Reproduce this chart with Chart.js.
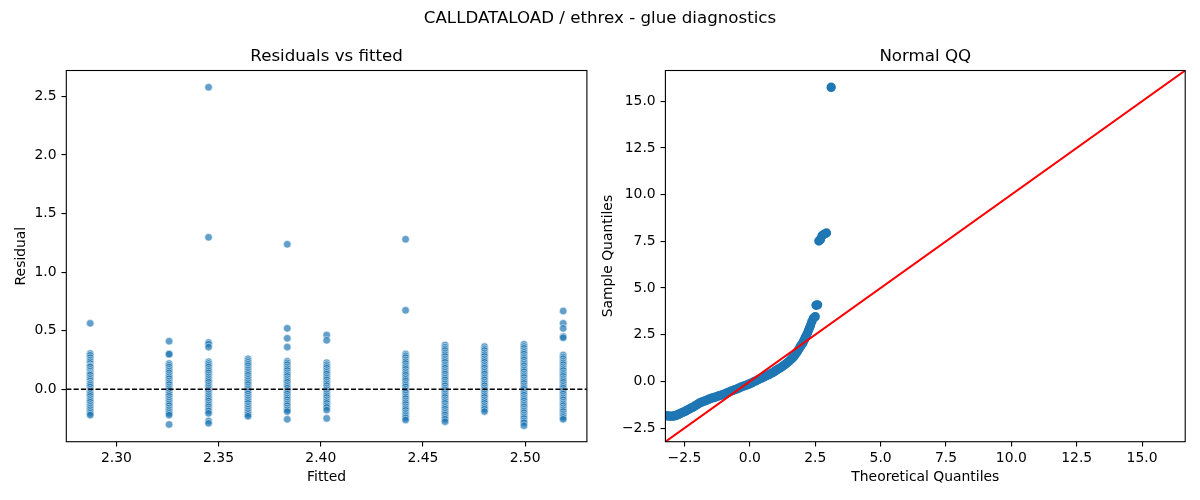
<!DOCTYPE html>
<html><head><meta charset="utf-8">
<script src="https://cdn.jsdelivr.net/npm/chart.js@4.4.1/dist/chart.umd.min.js"></script>
<style>
html,body{margin:0;padding:0;background:#fff;}
#wrap{position:relative;width:1200px;height:500px;overflow:hidden;background:#fff;}
#sup{position:absolute;left:0;top:8px;width:1200px;text-align:center;font-family:"DejaVu Sans";font-size:16.67px;line-height:20px;color:#000;white-space:nowrap;}
canvas{position:absolute;top:0;}
</style></head><body>
<div id="wrap">
<canvas id="c1" width="600" height="500" style="left:0;width:600px;height:500px"></canvas>
<canvas id="c2" width="600" height="500" style="left:600px;width:600px;height:500px"></canvas>
<div id="sup">CALLDATALOAD / ethrex - glue diagnostics</div>
</div>
<script>
// ---------- data: residuals vs fitted ----------
const fittedValues = [2.2872, 2.3258, 2.3451, 2.3644, 2.3836, 2.4029, 2.4415, 2.4608, 2.4801, 2.4994, 2.5186];
const res_2287 = [0.563, 0.305, 0.29, 0.27, 0.25, 0.235, 0.22, 0.20, 0.20, 0.19, 0.17, 0.155, 0.14, 0.13, 0.12, 0.10, 0.085, 0.07, 0.05, 0.05, 0.035, 0.02, 0.0, -0.015, -0.03, -0.03, -0.045, -0.06, -0.08, -0.095, -0.11, -0.13, -0.145, -0.16, -0.175, -0.19, -0.205, -0.22];
const res_2326 = [0.41, 0.30, 0.30, 0.22, 0.205, 0.19, 0.17, 0.155, 0.14, 0.12, 0.105, 0.09, 0.07, 0.055, 0.04, 0.02, 0.005, -0.01, -0.03, -0.045, -0.06, -0.08, -0.095, -0.11, -0.125, -0.14, -0.16, -0.175, -0.19, -0.205, -0.22, -0.30];
const res_2345 = [2.577, 1.297, 0.40, 0.385, 0.36, 0.235, 0.22, 0.205, 0.19, 0.17, 0.155, 0.14, 0.12, 0.105, 0.09, 0.075, 0.06, 0.04, 0.025, 0.01, -0.005, -0.02, -0.04, -0.055, -0.07, -0.085, -0.10, -0.12, -0.135, -0.15, -0.17, -0.185, -0.205, -0.27, -0.29];
const res_2364 = [0.26, 0.245, 0.23, 0.215, 0.20, 0.18, 0.165, 0.15, 0.135, 0.12, 0.10, 0.085, 0.07, 0.055, 0.04, 0.02, 0.005, -0.01, -0.025, -0.04, -0.06, -0.075, -0.09, -0.105, -0.12, -0.14, -0.155, -0.17, -0.185, -0.20, -0.215, -0.23];
const res_2384 = [1.237, 0.52, 0.435, 0.36, 0.24, 0.225, 0.21, 0.19, 0.175, 0.16, 0.14, 0.125, 0.11, 0.09, 0.075, 0.06, 0.04, 0.025, 0.01, -0.01, -0.025, -0.04, -0.06, -0.075, -0.09, -0.11, -0.125, -0.14, -0.16, -0.175, -0.19, -0.256];
const res_2403 = [0.463, 0.418, 0.227, 0.21, 0.195, 0.18, 0.16, 0.145, 0.13, 0.11, 0.095, 0.08, 0.06, 0.045, 0.03, 0.01, -0.005, -0.02, -0.04, -0.055, -0.07, -0.09, -0.105, -0.12, -0.14, -0.155, -0.177, -0.248];
const res_2442 = [1.28, 0.674, 0.30, 0.285, 0.27, 0.25, 0.235, 0.22, 0.20, 0.185, 0.17, 0.15, 0.135, 0.12, 0.10, 0.085, 0.07, 0.05, 0.035, 0.02, 0.0, -0.015, -0.03, -0.05, -0.065, -0.08, -0.10, -0.115, -0.13, -0.15, -0.165, -0.18, -0.20, -0.215, -0.23, -0.245, -0.262];
const res_2461 = [0.378, 0.36, 0.345, 0.33, 0.31, 0.295, 0.28, 0.26, 0.245, 0.23, 0.21, 0.195, 0.18, 0.16, 0.145, 0.13, 0.11, 0.095, 0.08, 0.06, 0.045, 0.03, 0.01, -0.005, -0.02, -0.04, -0.055, -0.07, -0.09, -0.105, -0.12, -0.14, -0.155, -0.17, -0.19, -0.205, -0.22, -0.24, -0.255, -0.276];
const res_2480 = [0.364, 0.345, 0.33, 0.31, 0.295, 0.28, 0.26, 0.245, 0.23, 0.21, 0.195, 0.18, 0.16, 0.145, 0.13, 0.11, 0.095, 0.08, 0.06, 0.045, 0.03, 0.01, -0.005, -0.02, -0.04, -0.055, -0.07, -0.09, -0.105, -0.12, -0.14, -0.155, -0.17, -0.19];
const res_2499 = [0.384, 0.365, 0.35, 0.33, 0.315, 0.30, 0.28, 0.265, 0.25, 0.23, 0.215, 0.20, 0.18, 0.165, 0.15, 0.13, 0.115, 0.10, 0.08, 0.065, 0.05, 0.03, 0.015, 0.0, -0.02, -0.035, -0.05, -0.07, -0.085, -0.10, -0.12, -0.135, -0.15, -0.17, -0.185, -0.20, -0.22, -0.235, -0.25, -0.27, -0.285, -0.31];
const res_2519 = [0.668, 0.563, 0.52, 0.45, 0.44, 0.293, 0.275, 0.26, 0.24, 0.225, 0.21, 0.19, 0.175, 0.16, 0.14, 0.125, 0.11, 0.09, 0.075, 0.06, 0.04, 0.025, 0.01, -0.01, -0.025, -0.04, -0.06, -0.075, -0.09, -0.11, -0.125, -0.14, -0.16, -0.175, -0.19, -0.21, -0.225, -0.24, -0.256];
const residualColumns = [res_2287, res_2326, res_2345, res_2364, res_2384, res_2403, res_2442, res_2461, res_2480, res_2499, res_2519];
const residXTicks = [2.30, 2.35, 2.40, 2.45, 2.50];
const residYTicks = [0.0, 0.5, 1.0, 1.5, 2.0, 2.5];

// ---------- data: normal QQ ----------
const theoreticalQ = [-3.17,-3.10,-3.03,-2.97,-2.90,-2.84,-2.78,-2.72,-2.66,-2.60,-2.53,-2.46,-2.40,-2.33,-2.26,-2.19,-2.12,-2.05,-1.98,-1.90,-1.83,-1.75,-1.67,-1.59,-1.52,-1.44,-1.36,-1.28,-1.20,-1.13,-1.05,-0.97,-0.89,-0.81,-0.73,-0.65,-0.57,-0.49,-0.41,-0.33,-0.25,-0.17,-0.09,-0.01,0.07,0.15,0.23,0.31,0.39,0.47,0.55,0.63,0.71,0.79,0.87,0.95,1.03,1.11,1.19,1.27,1.35,1.43,1.50,1.57,1.64,1.70,1.76,1.82,1.87,1.92,1.96,2.00,2.04,2.08,2.12,2.16,2.20,2.24,2.28,2.32,2.37,2.43,2.50,2.53,2.59,2.64,2.70,2.76,2.84,2.93,3.11];
const sampleQ = [-1.84,-1.86,-1.86,-1.86,-1.85,-1.83,-1.80,-1.76,-1.72,-1.68,-1.64,-1.59,-1.54,-1.49,-1.44,-1.39,-1.33,-1.27,-1.21,-1.14,-1.10,-1.06,-1.02,-0.97,-0.93,-0.89,-0.86,-0.82,-0.78,-0.75,-0.71,-0.67,-0.62,-0.58,-0.53,-0.49,-0.44,-0.40,-0.35,-0.30,-0.26,-0.22,-0.18,-0.13,-0.08,-0.02,0.03,0.09,0.14,0.19,0.25,0.30,0.35,0.41,0.47,0.54,0.61,0.68,0.75,0.83,0.91,1.00,1.08,1.17,1.27,1.37,1.48,1.60,1.72,1.84,1.93,2.00,2.10,2.22,2.34,2.46,2.58,2.72,2.86,3.00,3.20,3.38,3.47,4.08,4.10,7.52,7.60,7.80,7.88,7.95,15.75];
const qqLimits = [-3.23, 16.65];
const qqTicks = [-2.5, 0.0, 2.5, 5.0, 7.5, 10.0, 12.5, 15.0];

// ---------- rendering ----------
const F = "DejaVu Sans";
Chart.defaults.color = '#000';
Chart.defaults.font.family = F;

function fmt(d){ return v => (v < 0 ? '\u2212' : '') + Math.abs(v).toFixed(d); }

const framePlugin = {
  id: 'frame',
  afterDraw(chart){
    const {ctx, chartArea: a} = chart;
    ctx.save();
    ctx.strokeStyle = '#000';
    ctx.lineWidth = 1.1;
    ctx.strokeRect(a.left, a.top, a.right - a.left, a.bottom - a.top);
    ctx.restore();
  }
};

function axis(min, max, tickArr, decimals, title, isX, fitSize, titlePad){
  return {
    type: 'linear', min, max,
    afterBuildTicks(s){ s.ticks = tickArr.map(v => ({value: v})); },
    afterFit(s){ if (isX) s.height = fitSize; else s.width = fitSize; },
    ticks: {callback: fmt(decimals), font: {family: F, size: 13.9}, color: '#000',
            padding: isX ? 3 : 4.9, maxRotation: 0, autoSkip: false},
    grid: {display: true, drawOnChartArea: false, drawTicks: true, tickLength: 4.86, color: '#000', lineWidth: 1.1},
    border: {display: false},
    title: {display: true, text: title, font: {family: F, size: 13.9}, color: '#000', padding: titlePad}
  };
}

function baseOptions(titleText, scales){
  return {
    responsive: false, animation: false, events: [],
    layout: {padding: {top: 46.4, left: 0, right: 0, bottom: 0}},
    plugins: {
      legend: {display: false}, tooltip: {enabled: false},
      title: {display: true, text: titleText, fullSize: false, color: '#000',
              font: {family: F, size: 16.67, weight: 'normal'}, padding: {top: 0, bottom: 4.1}}
    },
    scales
  };
}

// left chart
const residPoints = [];
residualColumns.forEach((col, i) => col.forEach(r => residPoints.push({x: fittedValues[i], y: r})));
const xMinL = 2.2755, xMaxL = 2.5302;
const leftOpts = baseOptions('Residuals vs fitted', {
  x: axis(xMinL, xMaxL, residXTicks, 2, 'Fitted', true, 58.3, {top: 0, bottom: 14.3}),
  y: axis(-0.447, 2.720, residYTicks, 1, 'Residual', false, 66.3, {top: 13.4, bottom: 0})
});
leftOpts.layout.padding.right = 13.1;
new Chart(document.getElementById('c1'), {
  type: 'scatter',
  data: {datasets: [
    {type: 'line', data: [{x: xMinL, y: 0}, {x: xMaxL, y: 0}], borderColor: '#000', borderWidth: 1.39,
     borderDash: [5.1, 2.2], pointRadius: 0, fill: false},
    {data: residPoints, backgroundColor: 'rgba(31,119,180,0.7)', borderColor: 'rgba(255,255,255,0.7)',
     borderWidth: 0.75, pointRadius: 3.8}
  ]},
  options: leftOpts,
  plugins: [framePlugin]
});

// right chart
const qqPoints = theoreticalQ.map((t, i) => ({x: t, y: sampleQ[i]}));
const rightOpts = baseOptions('Normal QQ', {
  x: axis(qqLimits[0], qqLimits[1], qqTicks, 1, 'Theoretical Quantiles', true, 58.3, {top: 0, bottom: 14.3}),
  y: axis(qqLimits[0], qqLimits[1], qqTicks, 1, 'Sample Quantiles', false, 65.4, {top: 0, bottom: 0})
});
rightOpts.layout.padding.right = 14.8;
new Chart(document.getElementById('c2'), {
  type: 'scatter',
  data: {datasets: [
    {type: 'line', data: [{x: qqLimits[0], y: qqLimits[0]}, {x: qqLimits[1], y: qqLimits[1]}],
     borderColor: '#ff0000', borderWidth: 2.08, pointRadius: 0, fill: false},
    {data: qqPoints, backgroundColor: '#1f77b4', borderColor: '#1f77b4', borderWidth: 1.4, pointRadius: 4.0}
  ]},
  options: rightOpts,
  plugins: [framePlugin]
});
</script>
</body></html>
